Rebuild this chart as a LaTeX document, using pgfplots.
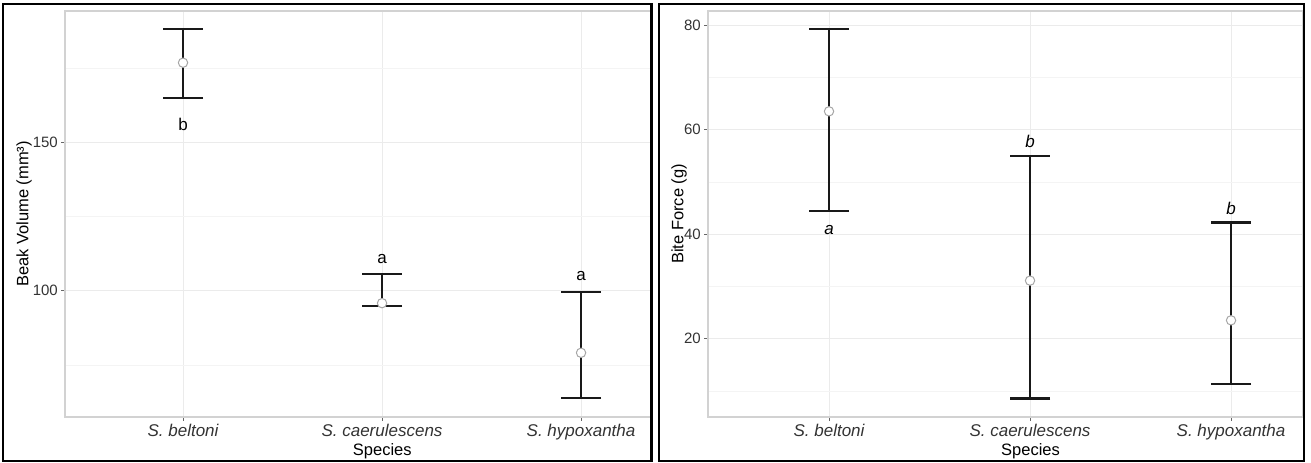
\documentclass[border=0pt]{standalone}
\usepackage{fontspec}
\setmainfont{Liberation Sans}
\usepackage{pgfplots}
\usepackage{pgfplotstable}
\pgfplotsset{compat=1.18}

\definecolor{gridmaj}{HTML}{EBEBEB}
\definecolor{gridmin}{HTML}{F4F4F4}
\definecolor{panelborder}{HTML}{D2D2D2}
\definecolor{ticktext}{HTML}{333333}

\pgfplotstableread{
x y ep em
1 176.7 11.3 11.8
2 95.8 9.7 0.9
3 79.1 20.4 15.3
}\beakdata

\pgfplotstableread{
x y ep em
1 63.5 15.7 19.1
2 31.1 23.9 22.55
3 23.5 18.7 12.2
}\bitedata

\pgfplotsset{
 ggstyle/.style={
  scale only axis,
  height=406bp,
  axis line style={panelborder, line width=1.2bp},
  grid=both,
  major grid style={gridmaj, line width=0.8bp},
  minor grid style={gridmin, line width=0.5bp},
  tick align=outside,
  major tick length=4bp,
  minor tick length=0pt,
  tick style={black!60, line width=0.8bp},
  tick pos=left,
  xtick={1,2,3},
  xticklabels={S. beltoni, S. caerulescens, S. hypoxantha},
  xticklabel style={font=\fontsize{17bp}{19bp}\selectfont\itshape, text=ticktext, inner sep=0pt, anchor=north, yshift=-3bp},
  yticklabel style={font=\fontsize{15bp}{17bp}\selectfont, text=ticktext, inner sep=0pt, anchor=east, xshift=-3bp},
  /pgf/number format/assume math mode=true,
  label style={font=\fontsize{16.5bp}{19bp}\selectfont},
  xlabel={Species},
  xlabel style={anchor=north, inner sep=0pt, at={(axis description cs:0.541,0)}, yshift=-26bp},
  ylabel style={anchor=center, inner sep=0pt},
  errplot/.style={only marks, mark=none,
    error bars/.cd, y dir=both, y explicit,
    error bar style={black!90, line width=2.3bp},
    error mark options={black!90, rotate=90, mark size=20bp, line width=2.3bp}},
  ptplot/.style={only marks, mark=*, mark size=4.7bp,
    mark options={fill=white, draw=gray!70, line width=1bp}},
 }
}

\begin{document}
\begin{tikzpicture}
\useasboundingbox (0,0) rectangle (1311bp,463bp);

% Left panel
\begin{axis}[ggstyle,
  at={(65bp,46bp)}, anchor=south west,
  width=586.5bp,
  xmin=0.407, xmax=3.354,
  ymin=57.5, ymax=194.1,
  ytick={100,150},
  minor ytick={75,125,175},
  ylabel={Beak Volume (mm³)},
  ylabel style={at={(axis description cs:-0.0699,0.5)}},
]
\addplot[errplot] table[x=x, y=y, y error plus=ep, y error minus=em] {\beakdata};
\addplot[ptplot] table[x=x, y=y] {\beakdata};
\node[font=\fontsize{17bp}{19bp}\selectfont, inner sep=0pt] at (axis cs:1,155.8) {b};
\node[font=\fontsize{17bp}{19bp}\selectfont, inner sep=0pt] at (axis cs:2,110.7) {a};
\node[font=\fontsize{17bp}{19bp}\selectfont, inner sep=0pt] at (axis cs:3,104.8) {a};
\end{axis}

% Right panel
\begin{axis}[ggstyle,
  at={(708bp,46bp)}, anchor=south west,
  width=595bp,
  xmin=0.398, xmax=3.358,
  ymin=5.0, ymax=82.7,
  ytick={20,40,60,80},
  minor ytick={10,30,50,70},
  ylabel={Bite Force (g)},
  ylabel style={at={(axis description cs:-0.0487,0.5)}},
  xlabel style={at={(axis description cs:0.542,0)}},
]
\addplot[errplot] table[x=x, y=y, y error plus=ep, y error minus=em] {\bitedata};
\addplot[ptplot] table[x=x, y=y] {\bitedata};
\node[font=\fontsize{17bp}{19bp}\selectfont\itshape, inner sep=0pt] at (axis cs:1,40.8) {a};
\node[font=\fontsize{17bp}{19bp}\selectfont\itshape, inner sep=0pt] at (axis cs:2,57.8) {b};
\node[font=\fontsize{17bp}{19bp}\selectfont\itshape, inner sep=0pt] at (axis cs:3,44.9) {b};
\end{axis}

% panel frames
\draw[black, line width=2.2bp] (3bp,2bp) rectangle (651.5bp,459bp);
\draw[black, line width=2.2bp] (659bp,2bp) rectangle (1304bp,459bp);
\end{tikzpicture}
\end{document}
